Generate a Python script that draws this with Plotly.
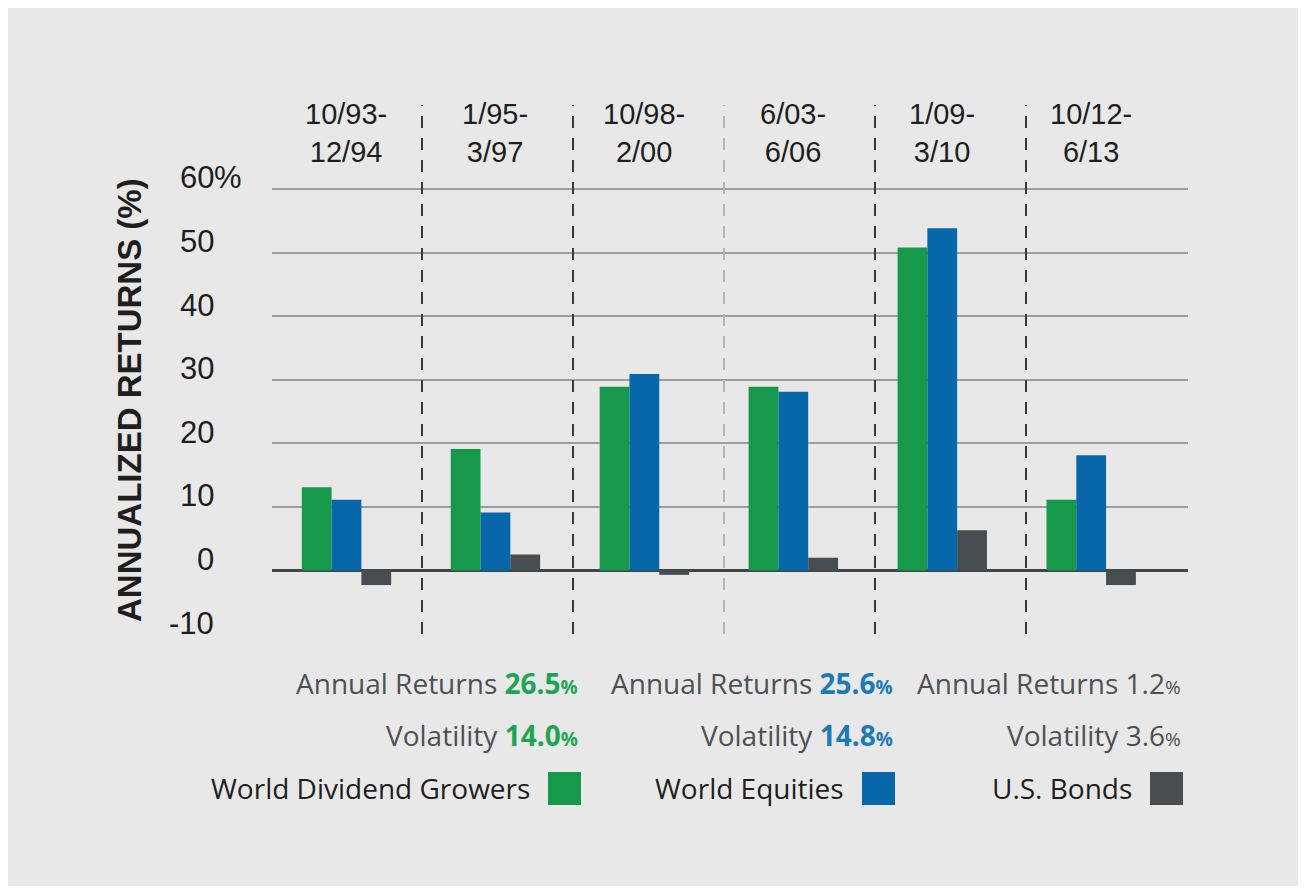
import plotly.graph_objects as go

# ---- data ----
period_start = ["10/93-", "1/95-", "10/98-", "6/03-", "1/09-", "10/12-"]
period_end = ["12/94", "3/97", "2/00", "6/06", "3/10", "6/13"]
series_names = ["World Dividend Growers", "World Equities", "U.S. Bonds"]
world_dividend_growers = [13.1, 19.1, 28.9, 28.9, 50.8, 11.1]
world_equities = [11.1, 9.1, 30.9, 28.1, 53.8, 18.1]
us_bonds = [-2.3, 2.5, -0.7, 2.0, 6.3, -2.3]
annual_returns = [26.5, 25.6, 1.2]
volatility = [14.0, 14.8, 3.6]
y_ticks = [60, 50, 40, 30, 20, 10, 0, -10]
y_tick_text = ["60", "50", "40", "30", "20", "10", "0", "-10"]
y_tick_suffix = ["%", "", "", "", "", "", "", ""]

colors = ["#16994a", "#0767a8", "#474d50"]
value_colors = ["#1ea553", "#1c7ab8", "#4a4f52"]
value_bold = [True, True, False]
text_gray = "#4d5154"
LABEL_FONT = "Liberation Sans"
TEXT_FONT = "Open Sans"

x_idx = list(range(len(period_start)))
fig = go.Figure()
for name, vals, col in zip(series_names, [world_dividend_growers, world_equities, us_bonds], colors):
    fig.add_trace(go.Bar(x=x_idx, y=vals, name=name, marker=dict(color=col, line=dict(width=0)),
                         showlegend=False))

# plot-area geometry in page pixels (page has an 8px body margin)
OFF = 8
L, R, T, B = 272, 1188, 105, 634
W, H = R - L, B - T
FW, FH = 1306 - OFF, 894 - 2 * OFF
def px(x):
    return (x - L) / W
def py(y):
    return (B - y) / H

shapes = []
# dashed dividers between periods
divider_px = [422, 573, 724, 875, 1026]
for i, d in enumerate(divider_px):
    c = "#b5b5b5" if i == 2 else "#3a3a3a"
    shapes.append(dict(type="line", xref="paper", yref="paper", x0=px(d), x1=px(d), y0=0, y1=1,
                       line=dict(color=c, width=2, dash="12px,10px"), layer="above"))

annotations = []
# period labels
for i, (a, b) in enumerate(zip(period_start, period_end)):
    annotations.append(dict(x=i, y=py(133), xref="x", yref="paper", text=f"{a}<br>{b}",
                            showarrow=False, xanchor="center", yanchor="middle",
                            font=dict(family=LABEL_FONT, size=29, color="#1e1e1e")))
# y tick labels (right aligned numbers, hanging % sign)
for v, t, s in zip(y_ticks, y_tick_text, y_tick_suffix):
    annotations.append(dict(x=px(216), y=v, xref="paper", yref="y", text=t, showarrow=False,
                            xanchor="right", yanchor="middle", yshift=11,
                            font=dict(family=LABEL_FONT, size=31, color="#1e1e1e")))
    if s:
        annotations.append(dict(x=px(212), y=v, xref="paper", yref="y", text=s, showarrow=False,
                                xanchor="left", yanchor="middle", yshift=11,
                                font=dict(family=LABEL_FONT, size=31, color="#1e1e1e")))
# y axis title
annotations.append(dict(x=px(129), y=py(400), xref="paper", yref="paper",
                        text="<b>ANNUALIZED RETURNS (%)</b>", textangle=-90, showarrow=False,
                        xanchor="center", yanchor="middle",
                        font=dict(family=LABEL_FONT, size=33, color="#1e1e1e")))

col_right = [580, 895, 1183]
sq_left = [548, 862, 1150]
for k in range(3):
    vc = value_colors[k]
    def val(v):
        s = f"<span style='color:{vc}'>{v:.1f}<span style='font-size:19px'>%</span></span>"
        return f"<b>{s}</b>" if value_bold[k] else s
    annotations.append(dict(x=px(col_right[k]), y=py(683), xref="paper", yref="paper",
                            text=f"Annual Returns {val(annual_returns[k])}", showarrow=False,
                            xanchor="right", yanchor="middle",
                            font=dict(family=TEXT_FONT, size=28, color=text_gray)))
    annotations.append(dict(x=px(col_right[k]), y=py(735), xref="paper", yref="paper",
                            text=f"Volatility {val(volatility[k])}", showarrow=False,
                            xanchor="right", yanchor="middle",
                            font=dict(family=TEXT_FONT, size=28, color=text_gray)))
    # legend entry: text then square
    annotations.append(dict(x=px(sq_left[k] - 16), y=py(788), xref="paper", yref="paper",
                            text=series_names[k], showarrow=False, xanchor="right", yanchor="middle",
                            font=dict(family=TEXT_FONT, size=28, color="#1e1e1e")))
    shapes.append(dict(type="rect", xref="paper", yref="paper", x0=px(sq_left[k]), x1=px(sq_left[k] + 33),
                       y0=py(805), y1=py(772), fillcolor=colors[k], line=dict(width=0)))

fig.update_layout(
    width=FW, height=FH,
    margin=dict(l=L - OFF, r=FW - (R - OFF), t=T - OFF, b=FH - (B - OFF), pad=0),
    paper_bgcolor="#e8e8e8", plot_bgcolor="rgba(0,0,0,0)",
    barmode="group", bargap=0.4, bargroupgap=0,
    shapes=shapes, annotations=annotations,
    xaxis=dict(range=[-0.5, 5.65], showticklabels=False, showgrid=False, zeroline=False,
               showline=False, ticks=""),
    yaxis=dict(range=[-10, 73.2], tickvals=y_ticks, showticklabels=False, showgrid=True,
               gridcolor="#9d9d9d", gridwidth=2, zeroline=True, zerolinecolor="#3c464b",
               zerolinewidth=3, showline=False, ticks=""),
    font=dict(family=TEXT_FONT),
)

fig.write_html("out.html")
